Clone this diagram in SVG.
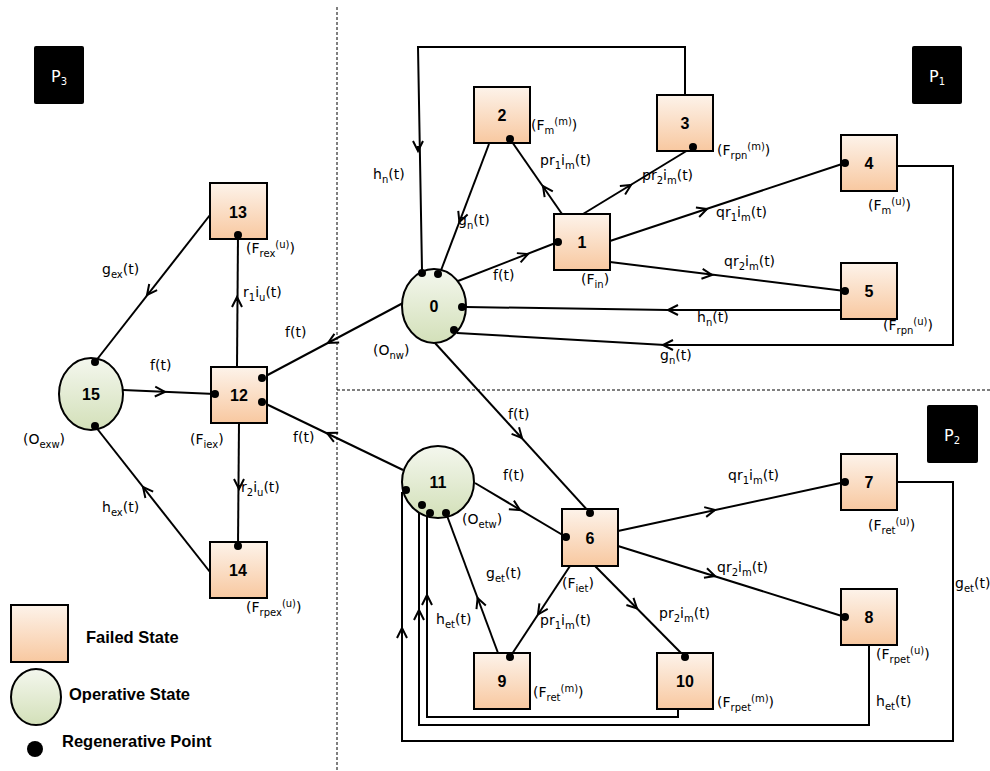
<svg xmlns="http://www.w3.org/2000/svg" width="990" height="771" viewBox="0 0 990 771">
<defs>
<linearGradient id="gF" x1="0" y1="0" x2="0" y2="1"><stop offset="0" stop-color="#fdf3ea"/><stop offset="1" stop-color="#f8c8a0"/></linearGradient>
<linearGradient id="gO" x1="0" y1="0" x2="0" y2="1"><stop offset="0" stop-color="#f4f7ee"/><stop offset="1" stop-color="#d3e0b9"/></linearGradient>
<marker id="ar" viewBox="0 0 10 10" refX="10" refY="5" markerWidth="10" markerHeight="10" markerUnits="userSpaceOnUse" orient="auto" overflow="visible"><path d="M0,0 L10,5 L0,10" fill="none" stroke="#000" stroke-width="2"/></marker>
</defs>
<style>
.f{fill:url(#gF);stroke:#000;stroke-width:2}
.o{fill:url(#gO);stroke:#000;stroke-width:2}
.num{font-family:"Liberation Sans",Arial,sans-serif;font-weight:bold;font-size:16px;text-anchor:middle}
.t{font-family:"DejaVu Sans",Verdana,sans-serif;font-size:14px;fill:#000}
.s{font-size:10px}
.e{fill:none;stroke:#000;stroke-width:2}
.a{fill:none;stroke:#000;stroke-width:2;marker-end:url(#ar)}
.d{fill:#000}
.dash{stroke:#000;stroke-width:1;stroke-dasharray:3,2;fill:none}
.p{fill:#000}
.pt{font-family:"DejaVu Sans",Verdana,sans-serif;font-size:16px;fill:#fff}
.lg{font-family:"Liberation Sans",Arial,sans-serif;font-weight:bold;font-size:16.5px}
</style>
<rect width="990" height="771" fill="#fff"/>
<path class="dash" d="M337,7 V771 M337,390 H990"/>
<g id="P3"><rect class="p" x="34" y="46" width="50" height="58" rx="2"/><text class="pt" x="51" y="82">P<tspan font-size="10" dy="3">3</tspan></text></g>
<g id="P1"><rect class="p" x="912" y="46" width="50" height="58" rx="2"/><text class="pt" x="929" y="82">P<tspan font-size="10" dy="3">1</tspan></text></g>
<g id="P2"><rect class="p" x="927" y="405" width="51" height="58" rx="2"/><text class="pt" x="944" y="441">P<tspan font-size="10" dy="3">2</tspan></text></g>

<g id="connectors">
<path class="e" d="M685,95 V47 H418 L422,270"/><path class="a" d="M418,146 L418,151"/>
<path class="e" d="M489,144 L440,273"/><path class="a" d="M460.8,218.3 L459.4,222"/>
<path class="e" d="M562,214 L510,139"/><path class="a" d="M545.3,189.3 L543,186"/>
<path class="e" d="M583,214 L693,147"/><path class="a" d="M627.6,187.1 L631,185"/>
<path class="e" d="M610,241 L845,163"/><path class="a" d="M703.2,210.3 L707,209"/>
<path class="e" d="M610,262 L845,291"/><path class="a" d="M708,274.5 L712,275"/>
<path class="e" d="M458,281 L558,242"/><path class="a" d="M524.3,255.5 L528,254"/>
<path class="e" d="M841,310 H668 L466,307"/><path class="a" d="M672,310 L668,310"/>
<path class="e" d="M897,166 H953 V345 H665 L457,333"/><path class="a" d="M667,345 L663,345"/>
<path class="e" d="M403,303 L262,378"/><path class="a" d="M331.5,341.1 L328,343"/>
<path class="e" d="M403,470 L262,402"/><path class="a" d="M330.6,434.7 L327,433"/>
<path class="e" d="M123,390 L215,394"/><path class="a" d="M161,391.8 L165,392"/>
<path class="e" d="M210,215 L95,362"/><path class="a" d="M149.5,291.8 L147,295"/>
<path class="e" d="M210,572 L95,426"/><path class="a" d="M145.5,490.1 L143,487"/>
<path class="e" d="M237,367 L238,235"/><path class="a" d="M237,301 L237,297"/>
<path class="e" d="M239,422 L238,546"/><path class="a" d="M239,485 L239,489"/>
<path class="e" d="M435,343 L590,513"/><path class="a" d="M519.3,435 L522,438"/>
<path class="e" d="M475,483 L566,537"/><path class="a" d="M516.6,508 L520,510"/>
<path class="e" d="M618,531 L845,482"/><path class="a" d="M711.1,510.8 L715,510"/>
<path class="e" d="M618,546 L845,617"/><path class="a" d="M711.2,574.8 L715,576"/>
<path class="e" d="M595,566 L685,657"/><path class="a" d="M634.2,605.7 L637,608.5"/>
<path class="e" d="M570,566 L510,657"/><path class="a" d="M540.2,611.2 L538,614.5"/>
<path class="e" d="M498,653 L446,513"/><path class="a" d="M479,601.7 L477.6,598"/>
<path class="e" d="M897,482 H953 V741 H402 V492"/><path class="a" d="M402,632 L402,628"/>
<path class="e" d="M869,645 V725 H419 V507"/><path class="a" d="M419,614 L419,610"/>
<path class="e" d="M678,709 V717 H427 V515"/><path class="a" d="M427,599 L427,595"/>
</g>

<g id="n0"><ellipse class="o" cx="434" cy="306" rx="32" ry="37"/><text class="num" x="434" y="312">0</text>
<circle class="d" cx="422" cy="273" r="4"/><circle class="d" cx="438" cy="274" r="4"/><circle class="d" cx="462" cy="307" r="4"/><circle class="d" cx="454" cy="330" r="4"/></g>
<g id="n1"><rect class="f" x="554" y="214" width="56" height="56"/><text class="num" x="582" y="248">1</text><circle class="d" cx="558" cy="242" r="4"/></g>
<g id="n2"><rect class="f" x="474" y="87" width="56" height="56"/><text class="num" x="502" y="121">2</text><circle class="d" cx="510" cy="139" r="4"/></g>
<g id="n3"><rect class="f" x="657" y="95" width="56" height="56"/><text class="num" x="685" y="129">3</text><circle class="d" cx="693" cy="147" r="4"/></g>
<g id="n4"><rect class="f" x="841" y="135" width="56" height="56"/><text class="num" x="869" y="169">4</text><circle class="d" cx="845" cy="163" r="4"/></g>
<g id="n5"><rect class="f" x="841" y="263" width="56" height="56"/><text class="num" x="869" y="297">5</text><circle class="d" cx="845" cy="291" r="4"/></g>
<g id="n6"><rect class="f" x="562" y="509" width="56" height="57"/><text class="num" x="590" y="544">6</text><circle class="d" cx="590" cy="513" r="4"/><circle class="d" cx="566" cy="537" r="4"/></g>
<g id="n7"><rect class="f" x="841" y="454" width="56" height="56"/><text class="num" x="869" y="488">7</text><circle class="d" cx="845" cy="482" r="4"/></g>
<g id="n8"><rect class="f" x="841" y="589" width="56" height="56"/><text class="num" x="869" y="623">8</text><circle class="d" cx="845" cy="617" r="4"/></g>
<g id="n9"><rect class="f" x="474" y="653" width="56" height="56"/><text class="num" x="502" y="687">9</text><circle class="d" cx="510" cy="657" r="4"/></g>
<g id="n10"><rect class="f" x="657" y="653" width="56" height="56"/><text class="num" x="685" y="687">10</text><circle class="d" cx="685" cy="657" r="4"/></g>
<g id="n11"><ellipse class="o" cx="438" cy="482" rx="36" ry="36"/><text class="num" x="438" y="488">11</text>
<circle class="d" cx="406" cy="490" r="4"/><circle class="d" cx="422" cy="505" r="4"/><circle class="d" cx="430" cy="513" r="4"/><circle class="d" cx="446" cy="513" r="4"/></g>
<g id="n12"><rect class="f" x="211" y="367" width="56" height="56"/><text class="num" x="239" y="401">12</text>
<circle class="d" cx="262" cy="378" r="4"/><circle class="d" cx="262" cy="402" r="4"/><circle class="d" cx="215" cy="394" r="4"/></g>
<g id="n13"><rect class="f" x="210" y="183" width="57" height="56"/><text class="num" x="238" y="218">13</text><circle class="d" cx="238" cy="235" r="4"/></g>
<g id="n14"><rect class="f" x="210" y="542" width="57" height="56"/><text class="num" x="238" y="576">14</text><circle class="d" cx="238" cy="546" r="4"/></g>
<g id="n15"><ellipse class="o" cx="91" cy="394" rx="32" ry="36"/><text class="num" x="91" y="400">15</text>
<circle class="d" cx="95" cy="362" r="4"/><circle class="d" cx="95" cy="426" r="4"/></g>

<g id="labels">
<text class="t" x="373" y="179">h<tspan class="s" dy="4">n</tspan><tspan dy="-4">(t)</tspan></text>
<text class="t" x="458" y="225">g<tspan class="s" dy="4">n</tspan><tspan dy="-4">(t)</tspan></text>
<text class="t" x="540" y="165">pr<tspan class="s" dy="4">1</tspan><tspan dy="-4">i</tspan><tspan class="s" dy="4">m</tspan><tspan dy="-4">(t)</tspan></text>
<text class="t" x="642" y="180">pr<tspan class="s" dy="4">2</tspan><tspan dy="-4">i</tspan><tspan class="s" dy="4">m</tspan><tspan dy="-4">(t)</tspan></text>
<text class="t" x="716" y="217">qr<tspan class="s" dy="4">1</tspan><tspan dy="-4">i</tspan><tspan class="s" dy="4">m</tspan><tspan dy="-4">(t)</tspan></text>
<text class="t" x="724" y="266">qr<tspan class="s" dy="4">2</tspan><tspan dy="-4">i</tspan><tspan class="s" dy="4">m</tspan><tspan dy="-4">(t)</tspan></text>
<text class="t" x="493" y="280">f(t)</text>
<text class="t" x="531" y="130">(F<tspan class="s" dy="4">m</tspan><tspan class="s" dy="-9">(m)</tspan><tspan dy="5">)</tspan></text>
<text class="t" x="717" y="155">(F<tspan class="s" dy="4">rpn</tspan><tspan class="s" dy="-9">(m)</tspan><tspan dy="5">)</tspan></text>
<text class="t" x="868" y="210">(F<tspan class="s" dy="4">m</tspan><tspan class="s" dy="-9">(u)</tspan><tspan dy="5">)</tspan></text>
<text class="t" x="581" y="284">(F<tspan class="s" dy="4">in</tspan><tspan dy="-4">)</tspan></text>
<text class="t" x="697" y="322">h<tspan class="s" dy="4">n</tspan><tspan dy="-4">(t)</tspan></text>
<text class="t" x="883" y="330">(F<tspan class="s" dy="4">rpn</tspan><tspan class="s" dy="-9">(u)</tspan><tspan dy="5">)</tspan></text>
<text class="t" x="660" y="360">g<tspan class="s" dy="4">n</tspan><tspan dy="-4">(t)</tspan></text>
<text class="t" x="373" y="355">(O<tspan class="s" dy="4">nw</tspan><tspan dy="-4">)</tspan></text>
<text class="t" x="285" y="337">f(t)</text>
<text class="t" x="293" y="442">f(t)</text>
<text class="t" x="150" y="370">f(t)</text>
<text class="t" x="102" y="274">g<tspan class="s" dy="4">ex</tspan><tspan dy="-4">(t)</tspan></text>
<text class="t" x="102" y="512">h<tspan class="s" dy="4">ex</tspan><tspan dy="-4">(t)</tspan></text>
<text class="t" x="243" y="297">r<tspan class="s" dy="4">1</tspan><tspan dy="-4">i</tspan><tspan class="s" dy="4">u</tspan><tspan dy="-4">(t)</tspan></text>
<text class="t" x="241" y="492">r<tspan class="s" dy="4">2</tspan><tspan dy="-4">i</tspan><tspan class="s" dy="4">u</tspan><tspan dy="-4">(t)</tspan></text>
<text class="t" x="246" y="253">(F<tspan class="s" dy="4">rex</tspan><tspan class="s" dy="-9">(u)</tspan><tspan dy="5">)</tspan></text>
<text class="t" x="190" y="444">(F<tspan class="s" dy="4">iex</tspan><tspan dy="-4">)</tspan></text>
<text class="t" x="23" y="444">(O<tspan class="s" dy="4">exw</tspan><tspan dy="-4">)</tspan></text>
<text class="t" x="246" y="612">(F<tspan class="s" dy="4">rpex</tspan><tspan class="s" dy="-9">(u)</tspan><tspan dy="5">)</tspan></text>
<text class="t" x="508" y="419">f(t)</text>
<text class="t" x="503" y="480">f(t)</text>
<text class="t" x="462" y="524">(O<tspan class="s" dy="4">etw</tspan><tspan dy="-4">)</tspan></text>
<text class="t" x="728" y="480">qr<tspan class="s" dy="4">1</tspan><tspan dy="-4">i</tspan><tspan class="s" dy="4">m</tspan><tspan dy="-4">(t)</tspan></text>
<text class="t" x="717" y="572">qr<tspan class="s" dy="4">2</tspan><tspan dy="-4">i</tspan><tspan class="s" dy="4">m</tspan><tspan dy="-4">(t)</tspan></text>
<text class="t" x="868" y="530">(F<tspan class="s" dy="4">ret</tspan><tspan class="s" dy="-9">(u)</tspan><tspan dy="5">)</tspan></text>
<text class="t" x="659" y="618">pr<tspan class="s" dy="4">2</tspan><tspan dy="-4">i</tspan><tspan class="s" dy="4">m</tspan><tspan dy="-4">(t)</tspan></text>
<text class="t" x="540" y="625">pr<tspan class="s" dy="4">1</tspan><tspan dy="-4">i</tspan><tspan class="s" dy="4">m</tspan><tspan dy="-4">(t)</tspan></text>
<text class="t" x="562" y="588">(F<tspan class="s" dy="4">iet</tspan><tspan dy="-4">)</tspan></text>
<text class="t" x="486" y="578">g<tspan class="s" dy="4">et</tspan><tspan dy="-4">(t)</tspan></text>
<text class="t" x="436" y="624">h<tspan class="s" dy="4">et</tspan><tspan dy="-4">(t)</tspan></text>
<text class="t" x="533" y="697">(F<tspan class="s" dy="4">ret</tspan><tspan class="s" dy="-9">(m)</tspan><tspan dy="5">)</tspan></text>
<text class="t" x="717" y="707">(F<tspan class="s" dy="4">rpet</tspan><tspan class="s" dy="-9">(m)</tspan><tspan dy="5">)</tspan></text>
<text class="t" x="876" y="659">(F<tspan class="s" dy="4">rpet</tspan><tspan class="s" dy="-9">(u)</tspan><tspan dy="5">)</tspan></text>
<text class="t" x="876" y="706">h<tspan class="s" dy="4">et</tspan><tspan dy="-4">(t)</tspan></text>
<text class="t" x="955" y="588">g<tspan class="s" dy="4">et</tspan><tspan dy="-4">(t)</tspan></text>
</g>

<g id="legend">
<rect class="f" x="11" y="605" width="57" height="57"/><text class="lg" x="86" y="643">Failed State</text>
<ellipse class="o" cx="36" cy="697" rx="25" ry="28"/><text class="lg" x="69" y="700">Operative State</text>
<circle class="d" cx="35" cy="749" r="8"/><text class="lg" x="62" y="747">Regenerative Point</text>
</g>
</svg>
